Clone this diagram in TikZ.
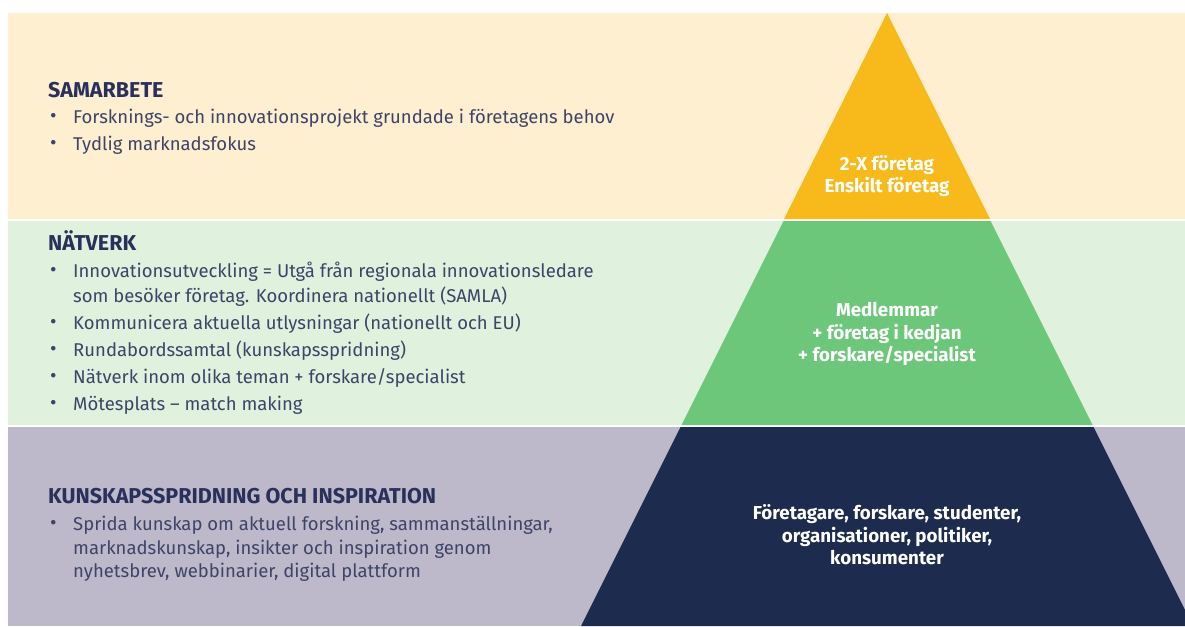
\documentclass[tikz,border=0pt]{standalone}
\usepackage{fontspec}
\setmainfont{Fira Sans}
\definecolor{cream}{HTML}{FDEFD0}
\definecolor{pyellow}{HTML}{F8BA1A}
\definecolor{lgreen}{HTML}{E0F1DD}
\definecolor{pgreen}{HTML}{6DC77B}
\definecolor{lav}{HTML}{BDB8CA}
\definecolor{navy}{HTML}{1D2B4E}
\definecolor{headc}{HTML}{29305A}
\definecolor{bodyc}{HTML}{3E4468}
\newcommand\bul{\makebox[23pt][l]{\raisebox{0.5pt}{\fontsize{20}{20}\selectfont•}}}
\tikzset{
  head/.style={anchor=base west, inner sep=0pt, text=headc, font=\fontsize{21.5}{24}\selectfont\bfseries},
  item/.style={anchor=base west, inner sep=0pt, text=bodyc, font=\fontsize{18.5}{22}\selectfont},
  plabel/.style={align=center, inner sep=0pt, text=white, font=\fontsize{18.8}{22.5}\selectfont\bfseries}
}
\begin{document}
\begin{tikzpicture}[x=1pt,y=-1pt]
\useasboundingbox (0,0) rectangle (1185,626);
\clip (0,0) rectangle (1185,626);
\fill[white] (0,0) rectangle (1185,626);
% bands
\fill[cream] (8,13) rectangle (1185,219);
\fill[lgreen] (8,221) rectangle (1185,425);
\fill[lav] (8,427) rectangle (1185,626);
% pyramid
\fill[pyellow] (887,13) -- (990,219) -- (784,219) -- cycle;
\fill[pgreen] (783.5,221) -- (990.5,221) -- (1092.5,425) -- (681.5,425) -- cycle;
\fill[navy] (680.5,427) -- (1093.5,427) -- (1193,626) -- (581,626) -- cycle;
% pyramid labels
\node[plabel] (ly) at (887,176) {2-X företag\\Enskilt företag};
\node[plabel] (lg) at (887,334) {Medlemmar\\+ företag i kedjan\\+ forskare/specialist};
\node[plabel] (ln) at (887,535) {Företagare, forskare, studenter,\\organisationer, politiker,\\konsumenter};
% SAMARBETE
\node[head] (h1) at (48,97) {SAMARBETE};
\node[item] (s1) at (50,123) {\bul Forsknings- och innovationsprojekt grundade i företagens behov};
\node[item] (s2) at (50,150) {\bul Tydlig marknadsfokus};
% NÄTVERK
\node[head] (h2) at (48,250) {NÄTVERK};
\node[item] (n1) at (50,277) {\bul Innovationsutveckling = Utgå från regionala innovationsledare};
\node[item] (n1b) at (73,302) {som besöker företag. Koordinera nationellt (SAMLA)};
\node[item] (n2) at (50,329) {\bul Kommunicera aktuella utlysningar (nationellt och EU)};
\node[item] (n3) at (50,356) {\bul Rundabordssamtal (kunskapsspridning)};
\node[item] (n4) at (50,383) {\bul Nätverk inom olika teman + forskare/specialist};
\node[item] (n5) at (50,410) {\bul Mötesplats – match making};
% KUNSKAPSSPRIDNING
\node[head] (h3) at (48,503) {KUNSKAPSSPRIDNING OCH INSPIRATION};
\node[item] (k1) at (50,530) {\bul Sprida kunskap om aktuell forskning, sammanställningar,};
\node[item] (k1b) at (73,554) {marknadskunskap, insikter och inspiration genom};
\node[item] (k1c) at (73,577) {nyhetsbrev, webbinarier, digital plattform};
\end{tikzpicture}
\end{document}
